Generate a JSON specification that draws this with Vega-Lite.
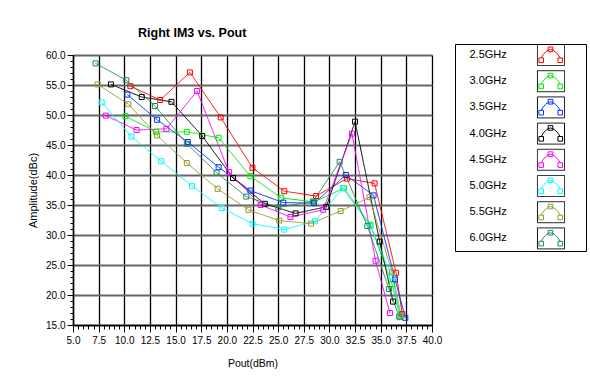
{
  "$schema": "https://vega.github.io/schema/vega-lite/v6.json",
  "width": 359,
  "height": 270,
  "autosize": {"type": "none"},
  "padding": {"left": 73, "top": 55, "right": 158, "bottom": 65},
  "background": "white",
  "title": {"text": "Right IM3 vs. Pout", "anchor": "start", "frame": "group", "dx": 65, "offset": -9, "font": "Liberation Sans", "fontSize": 12.5, "fontWeight": "bold", "color": "black", "baseline": "bottom"},
  "config": {"view": {"stroke": null}},
  "data": {"values": [
    {"f": "2.5GHz", "x": 10.6, "y": 54.8}, {"f": "2.5GHz", "x": 13.5, "y": 52.5}, {"f": "2.5GHz", "x": 16.4, "y": 57.1}, {"f": "2.5GHz", "x": 19.4, "y": 49.6}, {"f": "2.5GHz", "x": 22.5, "y": 41.2}, {"f": "2.5GHz", "x": 25.6, "y": 37.3}, {"f": "2.5GHz", "x": 28.7, "y": 36.5}, {"f": "2.5GHz", "x": 31.7, "y": 39.4}, {"f": "2.5GHz", "x": 34.4, "y": 38.6}, {"f": "2.5GHz", "x": 36.5, "y": 23.7}, {"f": "2.5GHz", "x": 37.1, "y": 16.8},
    {"f": "3.0GHz", "x": 10.1, "y": 49.8}, {"f": "3.0GHz", "x": 13.1, "y": 47.2}, {"f": "3.0GHz", "x": 16.1, "y": 47.2}, {"f": "3.0GHz", "x": 19.2, "y": 46.2}, {"f": "3.0GHz", "x": 22.3, "y": 39.8}, {"f": "3.0GHz", "x": 25.3, "y": 36.2}, {"f": "3.0GHz", "x": 28.5, "y": 35.5}, {"f": "3.0GHz", "x": 31.4, "y": 37.8}, {"f": "3.0GHz", "x": 34.0, "y": 31.7}, {"f": "3.0GHz", "x": 36.1, "y": 21.8}, {"f": "3.0GHz", "x": 36.9, "y": 16.3},
    {"f": "3.5GHz", "x": 10.3, "y": 53.4}, {"f": "3.5GHz", "x": 13.2, "y": 49.2}, {"f": "3.5GHz", "x": 16.2, "y": 45.5}, {"f": "3.5GHz", "x": 19.2, "y": 41.3}, {"f": "3.5GHz", "x": 22.3, "y": 37.4}, {"f": "3.5GHz", "x": 25.5, "y": 35.4}, {"f": "3.5GHz", "x": 28.5, "y": 35.3}, {"f": "3.5GHz", "x": 31.6, "y": 40.0}, {"f": "3.5GHz", "x": 34.3, "y": 36.6}, {"f": "3.5GHz", "x": 36.4, "y": 22.6}, {"f": "3.5GHz", "x": 37.4, "y": 16.2},
    {"f": "4.0GHz", "x": 8.7, "y": 55.1}, {"f": "4.0GHz", "x": 11.7, "y": 53.0}, {"f": "4.0GHz", "x": 14.6, "y": 52.2}, {"f": "4.0GHz", "x": 17.6, "y": 46.5}, {"f": "4.0GHz", "x": 20.6, "y": 39.5}, {"f": "4.0GHz", "x": 23.7, "y": 35.2}, {"f": "4.0GHz", "x": 26.7, "y": 33.6}, {"f": "4.0GHz", "x": 29.7, "y": 34.7}, {"f": "4.0GHz", "x": 32.5, "y": 48.9}, {"f": "4.0GHz", "x": 34.9, "y": 28.9}, {"f": "4.0GHz", "x": 36.2, "y": 18.9},
    {"f": "4.5GHz", "x": 8.2, "y": 49.9}, {"f": "4.5GHz", "x": 11.2, "y": 47.5}, {"f": "4.5GHz", "x": 14.1, "y": 47.7}, {"f": "4.5GHz", "x": 17.1, "y": 54.0}, {"f": "4.5GHz", "x": 20.2, "y": 40.5}, {"f": "4.5GHz", "x": 23.3, "y": 35.0}, {"f": "4.5GHz", "x": 26.2, "y": 33.0}, {"f": "4.5GHz", "x": 29.4, "y": 34.2}, {"f": "4.5GHz", "x": 32.2, "y": 46.9}, {"f": "4.5GHz", "x": 34.5, "y": 25.7}, {"f": "4.5GHz", "x": 35.9, "y": 17.0},
    {"f": "5.0GHz", "x": 7.8, "y": 52.1}, {"f": "5.0GHz", "x": 10.7, "y": 46.4}, {"f": "5.0GHz", "x": 13.6, "y": 42.3}, {"f": "5.0GHz", "x": 16.6, "y": 38.2}, {"f": "5.0GHz", "x": 19.5, "y": 34.5}, {"f": "5.0GHz", "x": 22.5, "y": 31.9}, {"f": "5.0GHz", "x": 25.6, "y": 30.9}, {"f": "5.0GHz", "x": 28.6, "y": 32.3}, {"f": "5.0GHz", "x": 31.3, "y": 37.8}, {"f": "5.0GHz", "x": 34.0, "y": 31.5}, {"f": "5.0GHz", "x": 36.1, "y": 23.1}, {"f": "5.0GHz", "x": 36.9, "y": 16.5},
    {"f": "5.5GHz", "x": 7.4, "y": 55.1}, {"f": "5.5GHz", "x": 10.4, "y": 51.8}, {"f": "5.5GHz", "x": 13.2, "y": 46.6}, {"f": "5.5GHz", "x": 16.1, "y": 42.0}, {"f": "5.5GHz", "x": 19.1, "y": 37.7}, {"f": "5.5GHz", "x": 22.1, "y": 34.2}, {"f": "5.5GHz", "x": 25.1, "y": 32.4}, {"f": "5.5GHz", "x": 28.2, "y": 31.9}, {"f": "5.5GHz", "x": 31.1, "y": 34.0}, {"f": "5.5GHz", "x": 33.9, "y": 36.3}, {"f": "5.5GHz", "x": 36.1, "y": 23.8}, {"f": "5.5GHz", "x": 37.0, "y": 16.5},
    {"f": "6.0GHz", "x": 7.2, "y": 58.6}, {"f": "6.0GHz", "x": 10.2, "y": 55.8}, {"f": "6.0GHz", "x": 13.0, "y": 51.5}, {"f": "6.0GHz", "x": 16.1, "y": 45.2}, {"f": "6.0GHz", "x": 19.0, "y": 40.4}, {"f": "6.0GHz", "x": 21.9, "y": 36.4}, {"f": "6.0GHz", "x": 25.0, "y": 34.6}, {"f": "6.0GHz", "x": 28.4, "y": 35.6}, {"f": "6.0GHz", "x": 31.0, "y": 42.2}, {"f": "6.0GHz", "x": 33.7, "y": 31.5}, {"f": "6.0GHz", "x": 35.8, "y": 21.0}, {"f": "6.0GHz", "x": 36.8, "y": 16.4}
  ]},
  "encoding": {
    "x": {"field": "x", "type": "quantitative", "scale": {"domain": [5, 40], "nice": false, "zero": false},
      "axis": {
        "values": [5,5.5,6,6.5,7,7.5,8,8.5,9,9.5,10,10.5,11,11.5,12,12.5,13,13.5,14,14.5,15,15.5,16,16.5,17,17.5,18,18.5,19,19.5,20,20.5,21,21.5,22,22.5,23,23.5,24,24.5,25,25.5,26,26.5,27,27.5,28,28.5,29,29.5,30,30.5,31,31.5,32,32.5,33,33.5,34,34.5,35,35.5,36,36.5,37,37.5,38,38.5,39,39.5,40],
        "labelExpr": "datum.value % 2.5 === 0 ? format(datum.value, '.1f') : ''",
        "tickSize": {"condition": {"test": "datum.value % 2.5 === 0", "value": 7}, "value": 4},
        "grid": true, "gridColor": "black", "gridWidth": 1.3,
        "gridOpacity": {"condition": {"test": "datum.value % 2.5 === 0", "value": 1}, "value": 0},
        "domainColor": "black", "domainWidth": 1.5, "tickColor": "black", "tickWidth": 1,
        "labelFont": "Liberation Sans", "labelFontSize": 10, "labelColor": "black", "labelPadding": 3, "labelOverlap": false, "labelFlush": false, "labelBound": false,
        "title": "Pout(dBm)", "titleFont": "Liberation Sans", "titleFontSize": 10.5, "titleFontWeight": "normal", "titleColor": "black", "titleX": 179.5, "titleY": 38, "titleBaseline": "middle", "titleAlign": "center"
      }},
    "y": {"field": "y", "type": "quantitative", "scale": {"domain": [15, 60], "nice": false, "zero": false},
      "axis": {
        "values": [15,16,17,18,19,20,21,22,23,24,25,26,27,28,29,30,31,32,33,34,35,36,37,38,39,40,41,42,43,44,45,46,47,48,49,50,51,52,53,54,55,56,57,58,59,60],
        "labelExpr": "datum.value % 5 === 0 ? format(datum.value, '.1f') : ''",
        "tickSize": {"condition": {"test": "datum.value % 5 === 0", "value": 6}, "value": 3},
        "grid": true, "gridColor": "#666666", "gridWidth": 2,
        "gridOpacity": {"condition": {"test": "datum.value % 5 === 0", "value": 1}, "value": 0},
        "domainColor": "black", "domainWidth": 1.5, "tickColor": "black", "tickWidth": 1,
        "labelFont": "Liberation Sans", "labelFontSize": 10, "labelColor": "black", "labelPadding": 2, "labelOverlap": false, "labelBound": false,
        "title": "Amplitude(dBc)", "titleFont": "Liberation Sans", "titleFontSize": 11, "titleFontWeight": "normal", "titleColor": "black", "titleX": -40, "titleY": 135, "titleAngle": -90, "titleBaseline": "middle", "titleAlign": "center"
      }},
    "color": {"field": "f", "type": "nominal",
      "scale": {"domain": ["2.5GHz","3.0GHz","3.5GHz","4.0GHz","4.5GHz","5.0GHz","5.5GHz","6.0GHz"],
                "range": ["#ff0000","#00ee00","#0033ff","#000000","#ff00ff","#00ffff","#9a9a30","#238a5c"]},
      "legend": {"orient": "none", "legendX": 382, "legendY": -11, "title": null, "padding": 0,
        "strokeColor": "black",
        "symbolType": "M-9.05,0 M0,-1 M0,1 M-0.93,0.28 Q-0.55,-0.45 -0.05,-0.54 Q0.45,-0.45 0.88,0.28 M-1.15,0.28 h0.44 v0.44 h-0.44 Z M0.66,0.28 h0.44 v0.44 h-0.44 Z M-0.27,-0.76 h0.44 v0.44 h-0.44 Z M3.14,0",
        "symbolSize": 441, "symbolStrokeWidth": 1, "symbolFillColor": "transparent", "symbolOffset": 85, "labelOffset": -92.5,
        "labelFont": "Liberation Sans", "labelFontSize": 11, "labelColor": "black", "rowPadding": 0.2, "labelLimit": 100}}
  },
  "layer": [
    {"mark": {"type": "line", "strokeWidth": 1},
     "encoding": {"strokeDash": {"field": "f", "type": "nominal", "scale": {"range": [[1, 0]]},
       "legend": {"orient": "none", "legendX": 382, "legendY": -11, "title": null, "padding": 0,
         "symbolType": "M-9.05,0 M-1.29,-1 H1.29 V1 H-1.29 Z M3.14,0",
         "symbolSize": 441, "symbolStrokeWidth": 1, "symbolStrokeColor": "black", "symbolFillColor": "transparent", "symbolOffset": 85, "labelOffset": -92.5,
         "labelFont": "Liberation Sans", "labelFontSize": 11, "labelOpacity": 0, "rowPadding": 0.2, "labelLimit": 100}}}},
    {"mark": {"type": "point", "shape": "square", "size": 25, "filled": false, "strokeWidth": 1, "opacity": 1}}
  ]
}
